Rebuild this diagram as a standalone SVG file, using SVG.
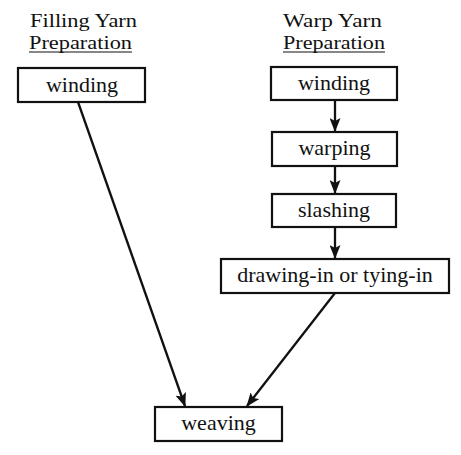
<svg xmlns="http://www.w3.org/2000/svg" width="461" height="455" viewBox="0 0 461 455">
<style>
text{font-family:"Liberation Serif","Times New Roman",serif;font-size:22px;fill:#111}
.t{font-size:19.5px}
.box rect{fill:#fff;stroke:#111;stroke-width:2.2}
.box text{text-anchor:middle}
.c line{stroke:#111;stroke-width:2.3;marker-end:url(#ah)}
.ul{stroke:#111;stroke-width:1.2}
</style>
<defs>
<marker id="ah" markerWidth="14" markerHeight="11" refX="13" refY="5.5" orient="auto" markerUnits="userSpaceOnUse">
<path d="M0,0 L14,5.5 L0,11 L3,5.5 Z" fill="#111"/>
</marker>
</defs>
<rect width="461" height="455" fill="#fff"/>
<g id="title-filling">
<text class="t" x="30" y="27" textLength="107" lengthAdjust="spacingAndGlyphs">Filling Yarn</text>
<text class="t" x="29" y="49" textLength="103" lengthAdjust="spacingAndGlyphs">Preparation</text>
<line class="ul" x1="29" y1="52" x2="132" y2="52"/>
</g>
<g id="title-warp">
<text class="t" x="283" y="27" textLength="99" lengthAdjust="spacingAndGlyphs">Warp Yarn</text>
<text class="t" x="283" y="49" textLength="102" lengthAdjust="spacingAndGlyphs">Preparation</text>
<line class="ul" x1="283" y1="52" x2="385" y2="52"/>
</g>
<g class="c" id="connectors">
<line x1="78" y1="102" x2="185" y2="406"/>
<line x1="335" y1="100" x2="335" y2="131"/>
<line x1="335" y1="166" x2="335" y2="193"/>
<line x1="335" y1="227" x2="335" y2="258"/>
<line x1="335" y1="293" x2="247" y2="406"/>
</g>
<g class="box" id="fill-winding"><rect x="18" y="68" width="127" height="34"/><text x="82" y="92">winding</text></g>
<g class="box" id="warp-winding"><rect x="271" y="67" width="126" height="33"/><text x="334" y="90">winding</text></g>
<g class="box" id="warping"><rect x="272" y="132" width="125" height="34"/><text x="334.5" y="155">warping</text></g>
<g class="box" id="slashing"><rect x="272" y="194" width="124" height="33"/><text x="334" y="217">slashing</text></g>
<g class="box" id="drawing-in"><rect x="221" y="259" width="228" height="34"/><text x="335" y="282">drawing-in or tying-in</text></g>
<g class="box" id="weaving"><rect x="155" y="407" width="127" height="34"/><text x="218.5" y="430">weaving</text></g>
</svg>
